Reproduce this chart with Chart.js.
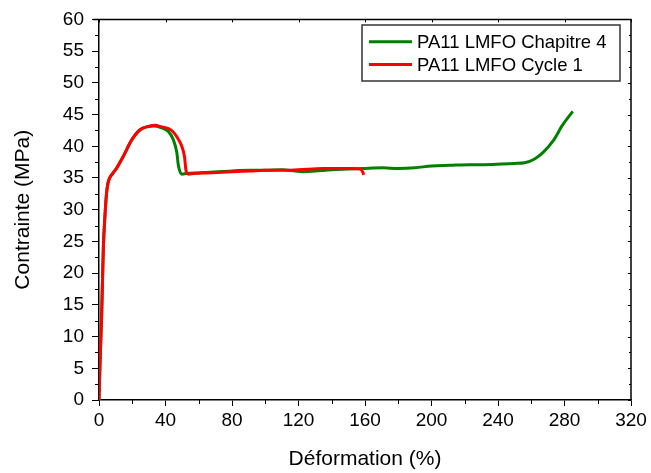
<!DOCTYPE html>
<html>
<head>
<meta charset="utf-8">
<script src="https://cdn.jsdelivr.net/npm/chart.js@4/dist/chart.umd.min.js"></script>
<style>
html,body{margin:0;padding:0;background:#fff;}
#wrap{width:651px;height:473px;position:relative;}
</style>
</head>
<body>
<div id="wrap"><canvas id="c" width="651" height="473"></canvas></div>
<script>
// Series names
const seriesNames = ["PA11 LMFO Chapitre 4", "PA11 LMFO Cycle 1"];
const seriesColors = ["#008000", "#ff0000"];

// PA11 LMFO Chapitre 4 (green)
const strainChap4 = [0,0.6,1.6,2.6,3.6,4.5,5.5,6.6,8.5,10.7,14.6,19.7,24.7,29.5,33,36.8,41.8,44.8,46.8,47.8,49.8,52.8,60,67,80,91,100,110,118,123,130,140,150,159,171,180,190,200,211,223,230,242,250,256,262,267,273,279,285];
const stressChap4 = [0,5.7,13.5,23.9,29.1,32.5,34.3,35.1,35.8,36.6,38.4,41.0,42.6,43.1,43.2,43.0,42.3,41.0,39.0,36.9,35.6,35.7,35.8,35.9,36.1,36.2,36.2,36.3,36.1,36.0,36.1,36.3,36.4,36.5,36.6,36.5,36.6,36.9,37.0,37.1,37.1,37.2,37.3,37.4,38.0,39.0,40.8,43.4,45.5];

// PA11 LMFO Cycle 1 (red)
const strainCycle1 = [0,0.6,1.6,2.6,3.6,4.5,5.5,6.6,8.5,10.7,14.6,19.7,24.7,30.7,34,37,41.8,44.5,46.8,49.8,51.4,52.4,53.8,56.9,65,80,91,100,110,120,135,145,151.3,157.3,158.5,159.3];
const stressCycle1 = [0,5.7,13.5,23.9,29.1,32.5,34.3,35.1,35.8,36.6,38.4,41.0,42.6,43.2,43.3,43.1,42.8,42.3,41.5,40.0,38.4,36.1,35.6,35.7,35.8,36.0,36.1,36.2,36.2,36.3,36.5,36.5,36.5,36.4,36.0,35.5];

// Axis ticks
const xTicks = [0,40,80,120,160,200,240,280,320];
const yTicks = [0,5,10,15,20,25,30,35,40,45,50,55,60];
const xMinorTicks = [20,60,100,140,180,220,260,300];
const yMinorTicks = [2.5,7.5,12.5,17.5,22.5,27.5,32.5,37.5,42.5,47.5,52.5,57.5];

const xTitle = "Déformation (%)";
const yTitle = "Contrainte (MPa)";

const FONT = "'Liberation Sans', Arial, Helvetica, sans-serif";

function pts(xs, ys){ return xs.map((x,i)=>({x:x, y:ys[i]})); }

const framePlugin = {
  id: 'frame',
  afterDraw(chart){
    const ctx = chart.ctx;
    const xs = chart.scales.x, ys = chart.scales.y;
    const a = chart.chartArea;
    ctx.save();
    ctx.strokeStyle = '#000';
    ctx.lineWidth = 1.5;
    // top and right frame
    ctx.beginPath();
    ctx.moveTo(a.left - 6, a.top); ctx.lineTo(a.right, a.top);
    ctx.lineTo(a.right, a.bottom);
    ctx.stroke();
    ctx.lineWidth = 1;
    ctx.beginPath();
    // minor ticks outward on x and y axes
    xMinorTicks.forEach(v=>{ const p = Math.round(xs.getPixelForValue(v))+0.5; ctx.moveTo(p, a.bottom); ctx.lineTo(p, a.bottom+4); });
    yMinorTicks.forEach(v=>{ const p = Math.round(ys.getPixelForValue(v))+0.5; ctx.moveTo(a.left, p); ctx.lineTo(a.left-4, p); });
    // inward ticks on top and right
    xTicks.forEach(v=>{ const p = Math.round(xs.getPixelForValue(v))+0.5; ctx.moveTo(p, a.top); ctx.lineTo(p, a.top+3); });
    yTicks.forEach(v=>{ const p = Math.round(ys.getPixelForValue(v))+0.5; ctx.moveTo(a.right, p); ctx.lineTo(a.right-3, p); });
    yMinorTicks.forEach(v=>{ const p = Math.round(ys.getPixelForValue(v))+0.5; ctx.moveTo(a.right, p); ctx.lineTo(a.right-2, p); });
    ctx.stroke();

    // legend
    const lx = 362, ly = 25, lw = 258, lh = 56;
    ctx.fillStyle = '#fff';
    ctx.fillRect(lx, ly, lw, lh);
    ctx.strokeStyle = '#333';
    ctx.lineWidth = 1.5;
    ctx.strokeRect(lx, ly, lw, lh);
    ctx.font = "18.5px " + FONT;
    ctx.textBaseline = 'middle';
    ctx.textAlign = 'left';
    const rows = [41.7, 64.5];
    chart.data.datasets.slice().sort((p,q)=>p.legendIndex-q.legendIndex).forEach((ds,i)=>{
      const y = rows[i];
      ctx.strokeStyle = ds.borderColor;
      ctx.lineWidth = 3;
      ctx.beginPath(); ctx.moveTo(369, y); ctx.lineTo(412, y); ctx.stroke();
      ctx.fillStyle = '#000';
      ctx.fillText(ds.label, 417, y+1);
    });
    ctx.restore();
  }
};

new Chart(document.getElementById('c'), {
  type: 'line',
  data: {
    datasets: [
      { label: seriesNames[0], legendIndex: 0, data: pts(strainChap4, stressChap4), borderColor: seriesColors[0], backgroundColor: seriesColors[0], borderWidth: 3, pointRadius: 0, cubicInterpolationMode: 'monotone', order: 1, fill: false },
      { label: seriesNames[1], legendIndex: 1, data: pts(strainCycle1, stressCycle1), borderColor: seriesColors[1], backgroundColor: seriesColors[1], borderWidth: 3, pointRadius: 0, cubicInterpolationMode: 'monotone', order: 0, fill: false }
    ]
  },
  options: {
    responsive: false,
    animation: false,
    devicePixelRatio: 1,
    layout: { padding: { top: 15, right: 20, left: 0, bottom: 0 } },
    plugins: { legend: { display: false }, tooltip: { enabled: false } },
    scales: {
      x: {
        type: 'linear', min: 0, max: 320,
        afterBuildTicks: s => { s.ticks = xTicks.map(v=>({value:v})); },
        afterFit: s => { s.height = 73; },
        grid: { display: true, drawOnChartArea: false, drawTicks: true, tickLength: 6, tickColor: '#000', tickWidth: 1 },
        border: { display: true, color: '#000', width: 1.5 },
        ticks: { color: '#000', font: { family: FONT, size: 19 }, padding: 3, maxRotation: 0, autoSkip: false },
        title: { display: true, text: xTitle, color: '#000', font: { family: FONT, size: 21 }, padding: { top: 0, bottom: 1 } }
      },
      y: {
        type: 'linear', min: 0, max: 60,
        afterBuildTicks: s => { s.ticks = yTicks.map(v=>({value:v})); },
        afterFit: s => { s.width = 99; },
        grid: { display: true, drawOnChartArea: false, drawTicks: true, tickLength: 7, tickColor: '#000', tickWidth: 1 },
        border: { display: true, color: '#000', width: 1.5 },
        ticks: { color: '#000', font: { family: FONT, size: 19 }, padding: 8, autoSkip: false },
        title: { display: true, text: yTitle, color: '#000', font: { family: FONT, size: 21 }, padding: { top: 11, bottom: 0 } }
      }
    }
  },
  plugins: [framePlugin]
});
</script>
</body>
</html>
